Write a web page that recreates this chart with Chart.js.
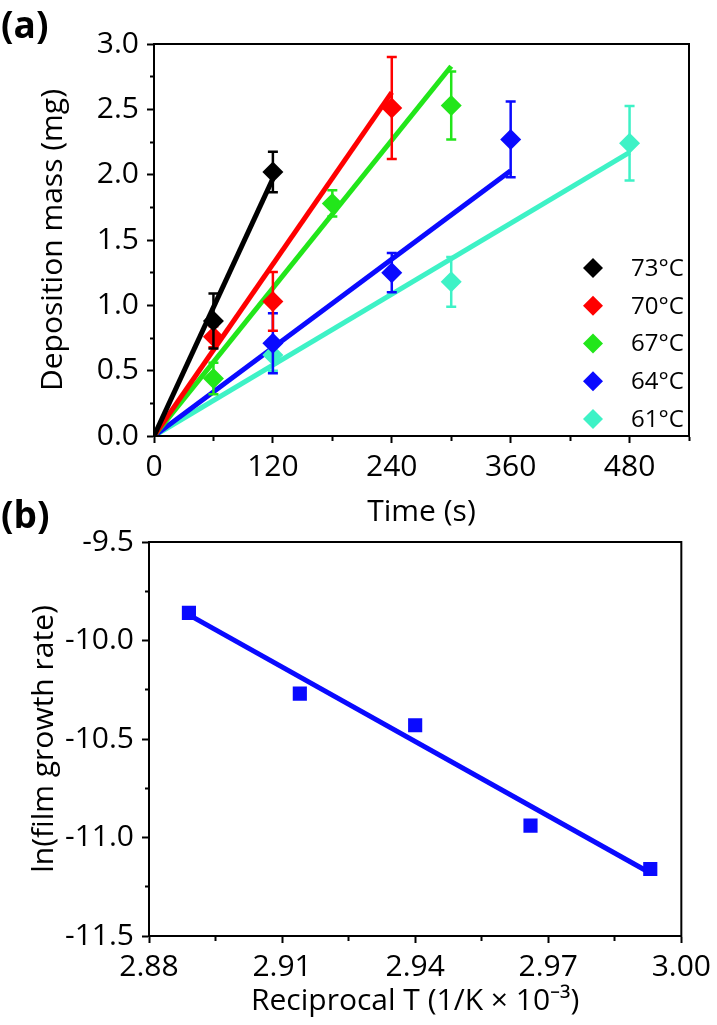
<!DOCTYPE html>
<html lang="en">
  <head>
    <meta charset="utf-8">
    <script src="https://cdn.jsdelivr.net/npm/chart.js"></script>
    <title>Deposition mass and growth rate</title>
    <style>
      body { margin: 0; background: #fff; }
      .panel { position: absolute; left: 0; }
      #panelA { top: 0; }
      #panelB { top: 495px; }
    </style>
  </head>
  <body>
    <canvas id="panelA" class="panel" width="717" height="530"></canvas>
    <canvas id="panelB" class="panel" width="717" height="530"></canvas>
  <script>
    // panel (a): deposition mass vs time for each bath temperature
    const temps = ['73°C', '70°C', '67°C', '64°C', '61°C'];
    const colors = ['#000000', '#ff0000', '#22e61a', '#0a0aff', '#3ef2c6'];
    const times = [[60, 120], [60, 120, 240], [60, 180, 300], [120, 240, 360], [120, 300, 480]];
    const masses = [[0.88, 2.02], [0.76, 1.03, 2.51], [0.44, 1.78, 2.53], [0.71, 1.25, 2.27], [0.62, 1.18, 2.24]];
    const errs = [[0.21, 0.155], [0.08, 0.225, 0.39], [0.12, 0.1, 0.26], [0.23, 0.15, 0.29], [0.12, 0.19, 0.285]];
    const fitEndTime = [120, 240, 300, 360, 480];
    const fitEndMass = [1.97, 2.63, 2.83, 2.03, 2.17];

    // panel (b): Arrhenius plot
    const recipT = [2.889, 2.914, 2.940, 2.966, 2.993];
    const lnRate = [-9.86, -10.27, -10.43, -10.94, -11.16];
    const fitRecipT = [2.889, 2.993];
    const fitLnRate = [-9.87, -11.18];

    Chart.defaults.color = '#000';
    Chart.defaults.font.family = "'Open Sans', sans-serif";

    const FONT = 30;

    const frame = {
      id: 'frame',
      afterDraw(chart) {
        const a = chart.chartArea, ctx = chart.ctx;
        ctx.save();
        ctx.strokeStyle = '#000';
        ctx.lineWidth = 2;
        ctx.strokeRect(a.left, a.top, a.right - a.left, a.bottom - a.top);
        ctx.font = 'bold 37px "Open Sans"';
        ctx.fillStyle = '#000';
        ctx.textBaseline = 'middle';
        ctx.fillText(chart.options.panelLabel, 1, chart.options.panelLabelY);
        ctx.restore();
      }
    };

    const errorBars = {
      id: 'errorBars',
      beforeDatasetDraw(chart, args) {
        const ds = chart.data.datasets[args.index];
        if (!ds.errors) return;
        const ctx = chart.ctx, xs = chart.scales.x, ys = chart.scales.y;
        ctx.save();
        ctx.strokeStyle = ds.backgroundColor;
        ctx.lineWidth = 2.5;
        ds.data.forEach((p, i) => {
          const x = xs.getPixelForValue(p.x);
          const top = ys.getPixelForValue(p.y + ds.errors[i]);
          const bot = ys.getPixelForValue(p.y - ds.errors[i]);
          ctx.beginPath();
          ctx.moveTo(x, top); ctx.lineTo(x, bot);
          ctx.moveTo(x - 5, top); ctx.lineTo(x + 5, top);
          ctx.moveTo(x - 5, bot); ctx.lineTo(x + 5, bot);
          ctx.stroke();
        });
        ctx.restore();
      }
    };

    const tempLegend = {
      id: 'tempLegend',
      afterDraw(chart) {
        if (!chart.options.showTempLegend) return;
        const ctx = chart.ctx;
        ctx.save();
        ctx.font = '24px "Open Sans"';
        ctx.textBaseline = 'middle';
        temps.forEach((t, i) => {
          const y = 268 + i * 37.75;
          ctx.fillStyle = colors[i];
          ctx.beginPath();
          ctx.moveTo(583, y); ctx.lineTo(593, y - 10); ctx.lineTo(603, y); ctx.lineTo(593, y + 10);
          ctx.closePath();
          ctx.fill();
          ctx.fillStyle = '#000';
          ctx.fillText(t, 631, y + 1);
        });
        ctx.restore();
      }
    };

    function gridOpts(leftSide) {
      return {
        drawOnChartArea: false,
        tickLength: 7,
        tickWidth: 2,
        tickColor: '#000',
        tickBorderDash: ctx => (ctx.index % 2 === 0 ? [] : (leftSide ? [0, 3, 4, 20] : [4, 20]))
      };
    }

    function axis(opts) {
      return {
        type: 'linear',
        min: opts.min, max: opts.max,
        border: { color: '#000', width: 2 },
        grid: gridOpts(opts.left),
        afterFit: opts.fit,
        ticks: {
          stepSize: opts.step,
          autoSkip: false,
          maxRotation: 0,
          padding: opts.pad,
          font: { size: FONT },
          callback: (v, i) => (i % 2 === 0 ? v.toFixed(opts.dec) : '')
        },
        title: {
          display: true,
          text: opts.title,
          font: { size: FONT },
          padding: opts.titlePad
        }
      };
    }

    // ---- panel (a)
    const dsA = [];
    temps.forEach((t, i) => {
      dsA.push({
        label: t,
        data: times[i].map((x, j) => ({ x: x, y: masses[i][j] })),
        errors: errs[i],
        backgroundColor: colors[i],
        borderColor: colors[i],
        pointStyle: 'rectRot',
        pointRadius: 10.5,
        borderWidth: 0,
        showLine: false
      });
    });
    temps.forEach((t, i) => {
      dsA.push({
        label: t + ' fit',
        data: [{ x: 0, y: 0 }, { x: fitEndTime[i], y: fitEndMass[i] }],
        borderColor: colors[i],
        borderWidth: 5,
        pointRadius: 0,
        showLine: true
      });
    });

    new Chart(document.getElementById('panelA'), {
      type: 'scatter',
      data: { datasets: dsA },
      options: {
        responsive: false,
        animation: false,
        panelLabel: '(a)',
        panelLabelY: 27,
        showTempLegend: true,
        layout: { padding: { left: 0, top: 44, right: 28, bottom: 0 } },
        plugins: { legend: { display: false }, tooltip: { enabled: false } },
        scales: {
          x: axis({ min: 0, max: 540, step: 60, dec: 0, pad: 6, title: 'Time (s)',
                    titlePad: { top: 0, bottom: 0 }, fit: s => { s.height = 94; } }),
          y: axis({ min: 0, max: 3, step: 0.25, dec: 1, pad: 8, left: true, title: 'Deposition mass (mg)',
                    titlePad: { top: 35, bottom: 0 }, fit: s => { s.width = 154; } })
        }
      },
      plugins: [errorBars, frame, tempLegend]
    });

    // ---- panel (b)
    new Chart(document.getElementById('panelB'), {
      type: 'scatter',
      data: {
        datasets: [{
          label: 'ln rate',
          data: recipT.map((x, i) => ({ x: x, y: lnRate[i] })),
          backgroundColor: '#0a0aff',
          pointStyle: 'rect',
          pointRadius: 10,
          borderWidth: 0,
          showLine: false
        }, {
          label: 'fit',
          data: fitRecipT.map((x, i) => ({ x: x, y: fitLnRate[i] })),
          borderColor: '#0a0aff',
          borderWidth: 5,
          pointRadius: 0,
          showLine: true
        }]
      },
      options: {
        responsive: false,
        animation: false,
        panelLabel: '(b)',
        panelLabelY: 22,
        layout: { padding: { left: 0, top: 47, right: 33, bottom: 0 } },
        plugins: { legend: { display: false }, tooltip: { enabled: false } },
        scales: {
          x: axis({ min: 2.88, max: 3.00, step: 0.015, dec: 2, pad: 6, title: 'Reciprocal T (1/K × 10⁻³)',
                    titlePad: { top: 0, bottom: 6 }, fit: s => { s.height = 89; } }),
          y: axis({ min: -11.5, max: -9.5, step: 0.25, dec: 1, pad: 8, left: true, title: 'ln(film growth rate)',
                    titlePad: { top: 26, bottom: 0 }, fit: s => { s.width = 149; } })
        }
      },
      plugins: [frame]
    });
  </script>
  </body>
</html>
